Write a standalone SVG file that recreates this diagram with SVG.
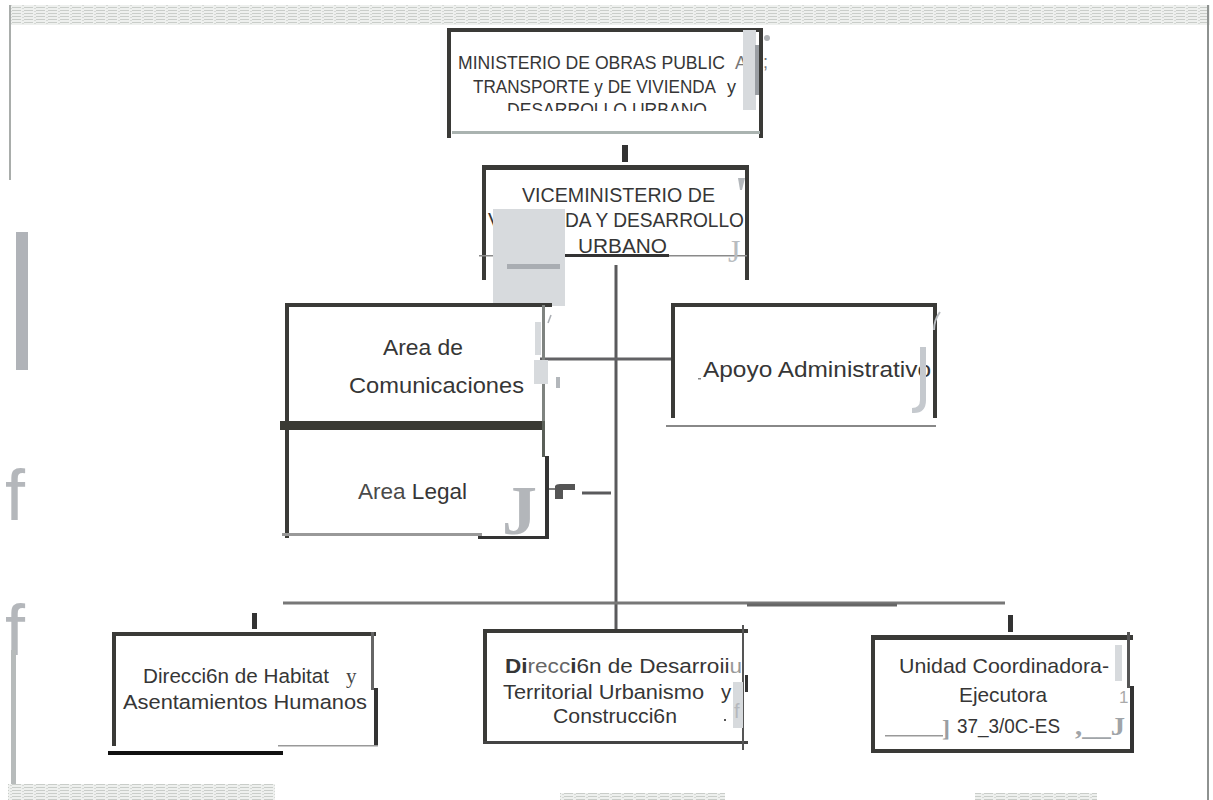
<svg xmlns="http://www.w3.org/2000/svg" width="1213" height="800" viewBox="0 0 1213 800">
  <defs>
    <pattern id="scanband" width="12" height="3" patternUnits="userSpaceOnUse">
      <rect width="12" height="3" fill="#eef0ee"/>
      <rect y="1" width="9" height="1" fill="#c9cdc9"/>
      <rect x="10" y="2" width="2" height="1" fill="#d7dad7"/>
    </pattern>
    <clipPath id="clipMinLine3">
      <rect x="440" y="95" width="330" height="16"/>
    </clipPath>
    <style>
      .t { font-family: "Liberation Sans", Arial, sans-serif; fill: #363636; }
      .s { font-family: "Liberation Serif", "Times New Roman", serif; }
      .edge { fill: #3a3a37; }
      .mask { fill: #d7dadd; }
      .ghost { fill: #b3b7bb; }
      .wire { stroke: #5a5a5c; stroke-width: 3; fill: none; }
    </style>
  </defs>

  <rect width="1213" height="800" fill="#ffffff"/>

  <!-- page frame: scanned edges -->
  <g id="frame">
    <rect x="10" y="5" width="1200" height="20" fill="url(#scanband)"/>
    <rect x="9" y="5" width="2" height="175" fill="#a9adab"/>
    <rect x="1207" y="5" width="2" height="795" fill="#8e9290"/>
    <rect x="16" y="232" width="12" height="138" fill="#b0b3b8"/>
    <text x="5" y="520" class="t" font-size="72" style="fill:#b4b7bb">f</text>
    <text x="5" y="655" class="t" font-size="72" style="fill:#b4b7bb">f</text>
    <rect x="11" y="650" width="5" height="140" fill="#b7bbbb"/>
    <rect x="8" y="784" width="267" height="16" fill="url(#scanband)"/>
    <rect x="560" y="793" width="165" height="7" fill="url(#scanband)"/>
    <rect x="975" y="793" width="122" height="7" fill="url(#scanband)"/>
  </g>

  <!-- connectors -->
  <g id="connectors">
    <rect x="622" y="145" width="6" height="17" fill="#333"/>
    <line x1="616" y1="265" x2="616" y2="631" class="wire"/>
    <line x1="540" y1="359" x2="672" y2="359" class="wire" style="stroke:#626265"/>
    <line x1="546" y1="489" x2="556" y2="489" stroke="#555" stroke-width="1.5"/>
    <path d="M555,486 Q556,484 560,484 L575,484 L575,490 L563,490 L563,499 L555,499 Z" fill="#555"/>
    <line x1="582" y1="493" x2="611" y2="493" class="wire"/>
    <line x1="283" y1="603" x2="1005" y2="603" class="wire" style="stroke:#777"/>
    <line x1="747" y1="605" x2="897" y2="605" class="wire" style="stroke:#666"/>
    <rect x="252" y="613" width="5" height="16" fill="#333"/>
    <rect x="1008" y="615" width="5" height="17" fill="#333"/>
  </g>

  <!-- Ministerio -->
  <g id="ministerio">
    <rect x="447" y="28" width="316" height="4" class="edge"/>
    <rect x="447" y="28" width="4" height="110" class="edge"/>
    <rect x="759" y="28" width="4" height="110" class="edge"/>
    <rect x="452" y="131" width="308" height="3" fill="#aab3b0"/>
    <text x="458" y="69" class="t" font-size="18" textLength="267" lengthAdjust="spacingAndGlyphs">MINISTERIO DE OBRAS PUBLIC</text>
    <text class="t" font-size="18" style="fill:#777"><tspan x="735" y="69">A</tspan><tspan x="763" y="68">;</tspan></text>
    <text class="t" font-size="18"><tspan x="473" y="93" textLength="243" lengthAdjust="spacingAndGlyphs">TRANSPORTE y DE VIVIENDA</tspan><tspan x="727" y="93">y</tspan></text>
    <text x="507" y="116" class="t" font-size="18" textLength="200" lengthAdjust="spacingAndGlyphs" clip-path="url(#clipMinLine3)">DESARROLLO URBANO</text>
    <rect x="743" y="30" width="13" height="80" class="mask"/>
    <rect x="755" y="45" width="4" height="50" fill="#9a9ea3"/>
    <circle cx="767" cy="38" r="3" fill="#b0b3b6"/>
  </g>

  <!-- Viceministerio -->
  <g id="viceministerio">
    <rect x="482" y="165" width="267" height="5" class="edge"/>
    <rect x="482" y="165" width="4" height="115" class="edge"/>
    <rect x="745" y="165" width="4" height="115" class="edge"/>
    <rect x="479" y="255" width="268" height="1.5" fill="#8a8a8a"/>
    <rect x="565" y="254" width="104" height="3" fill="#333"/>
    <text x="522" y="202" class="t" font-size="20" textLength="193" lengthAdjust="spacingAndGlyphs">VICEMINISTERIO DE</text>
    <text x="488" y="227" class="t" font-size="20">V</text>
    <text x="565" y="227" class="t" font-size="20" textLength="179" lengthAdjust="spacingAndGlyphs">DA Y DESARROLLO</text>
    <text x="578" y="253" class="t" font-size="20" textLength="89" lengthAdjust="spacingAndGlyphs">URBANO</text>
    <rect x="493" y="209" width="72" height="97" class="mask"/>
    <rect x="507" y="264" width="53" height="5" fill="#a9adb2"/>
    <polygon points="738,178 745,178 742,190 740,190" class="ghost"/>
    <text x="728" y="262" class="s" font-size="32" style="fill:#b8bcc0">J</text>
  </g>

  <!-- Area de Comunicaciones -->
  <g id="comunicaciones">
    <rect x="285" y="303" width="267" height="4" class="edge"/>
    <rect x="285" y="303" width="4" height="235" class="edge"/>
    <rect x="280" y="421" width="262" height="9" fill="#3a3a34"/>
    <rect x="542" y="305" width="3" height="116" fill="#7f8380"/>
    <rect x="542" y="421" width="3" height="36" fill="#5a5f58"/>
    <rect x="535" y="322" width="6" height="33" class="mask"/>
    <rect x="534" y="360" width="14" height="24" class="mask"/>
    <rect x="556" y="377" width="4" height="11" class="ghost"/>
    <line x1="551" y1="315" x2="548" y2="323" stroke="#a9adb2" stroke-width="1.5"/>
    <text x="383" y="355" class="t" font-size="21.5" textLength="80" lengthAdjust="spacingAndGlyphs">Area de</text>
    <text x="349" y="393" class="t" font-size="21.5" textLength="175" lengthAdjust="spacingAndGlyphs">Comunicaciones</text>
  </g>

  <!-- Area Legal -->
  <g id="legal">
    <rect x="545" y="456" width="4" height="83" fill="#333"/>
    <rect x="282" y="533" width="200" height="3" fill="#999"/>
    <rect x="478" y="536" width="71" height="3" fill="#333"/>
    <text x="358" y="499" class="t" font-size="21.5" textLength="109" lengthAdjust="spacingAndGlyphs"><tspan style="fill:#4a4a4a">Area</tspan> Legal</text>
    <text x="502" y="534" class="s" font-size="70" font-weight="bold" style="fill:#b3b6ba">J</text>
  </g>

  <!-- Apoyo Administrativo -->
  <g id="apoyo">
    <rect x="671" y="303" width="266" height="4" class="edge"/>
    <rect x="671" y="303" width="4" height="115" class="edge"/>
    <rect x="933" y="303" width="4" height="115" class="edge"/>
    <rect x="666" y="425" width="270" height="2" fill="#888"/>
    <rect x="698" y="378" width="3" height="1.5" fill="#888"/>
    <text x="703" y="377" class="t" font-size="21.5" textLength="228" lengthAdjust="spacingAndGlyphs">Apoyo Administrativo</text>
    <path d="M920,347 L926,347 L926,400 Q926,413 914,413 L912,413 L912,408 Q920,408 920,400 Z" fill="#c5c9ce"/>
    <path d="M940,312 Q934,320 934,330" stroke="#b8bcc0" stroke-width="2" fill="none"/>
  </g>

  <!-- Direccion de Habitat y Asentamientos Humanos -->
  <g id="habitat">
    <rect x="112" y="632" width="264" height="4" class="edge"/>
    <rect x="112" y="632" width="4" height="114" class="edge"/>
    <rect x="371" y="632" width="3" height="58" fill="#666"/>
    <rect x="374" y="688" width="4" height="58" fill="#333"/>
    <rect x="278" y="745" width="100" height="1.5" fill="#999"/>
    <rect x="108" y="751" width="175" height="4" fill="#111"/>
    <text x="143" y="683" class="t" font-size="20.5" textLength="186" lengthAdjust="spacingAndGlyphs">Direcci6n de Habitat</text>
    <text x="346" y="683" class="s" font-size="21" style="fill:#444">y</text>
    <text x="123" y="709" class="t" font-size="20.5" textLength="244" lengthAdjust="spacingAndGlyphs">Asentamientos Humanos</text>
  </g>

  <!-- Direccion de Desarrollo Territorial -->
  <g id="desarrollo">
    <rect x="483" y="629" width="265" height="4" class="edge"/>
    <rect x="483" y="629" width="4" height="115" class="edge"/>
    <rect x="483" y="741" width="265" height="3" fill="#444"/>
    <rect x="742" y="625" width="2" height="125" fill="#555"/>
    <rect x="745" y="675" width="3" height="17" fill="#333"/>
    <rect x="733" y="682" width="10" height="46" class="mask"/>
    <text x="734" y="718" class="t" font-size="20" style="fill:#b5b8bc">f</text>
    <text x="505" y="673" class="t" font-size="20.5" textLength="237" lengthAdjust="spacingAndGlyphs"><tspan font-weight="bold">Di</tspan><tspan style="fill:#666">recc</tspan><tspan font-weight="bold">i</tspan>6n de Desarroii<tspan style="fill:#999">u</tspan></text>
    <text class="t" font-size="20.5"><tspan x="503" y="699" textLength="201" lengthAdjust="spacingAndGlyphs">Territorial Urbanismo</tspan><tspan x="721" y="699">y</tspan></text>
    <text x="553" y="723" class="t" font-size="20.5" textLength="124" lengthAdjust="spacingAndGlyphs">Construcci6n</text>
    <rect x="724" y="719" width="2" height="2" fill="#555"/>
  </g>

  <!-- Unidad Coordinadora-Ejecutora -->
  <g id="unidad">
    <rect x="871" y="635" width="262" height="5" class="edge"/>
    <rect x="871" y="635" width="4" height="118" class="edge"/>
    <rect x="871" y="749" width="263" height="4" class="edge"/>
    <rect x="1127" y="632" width="3" height="56" fill="#555"/>
    <rect x="1130" y="686" width="4" height="67" fill="#333"/>
    <rect x="1115" y="645" width="7" height="36" class="mask"/>
    <text x="1119" y="703" class="t" font-size="17" style="fill:#aaa">1</text>
    <text x="899" y="673" class="t" font-size="21" textLength="210" lengthAdjust="spacingAndGlyphs">Unidad Coordinadora-</text>
    <text x="959" y="702" class="t" font-size="21" textLength="88" lengthAdjust="spacingAndGlyphs">Ejecutora</text>
    <rect x="885" y="735" width="58" height="1.5" fill="#999"/>
    <text x="942" y="736" class="s" font-size="24" font-weight="bold" style="fill:#9a9ea2">]</text>
    <text x="957" y="733" class="t" font-size="20" textLength="103" lengthAdjust="spacingAndGlyphs">37_3/0C-ES</text>
    <text x="1075" y="735" class="s" font-size="26" font-weight="bold" textLength="50" lengthAdjust="spacingAndGlyphs" style="fill:#a0a4a8">,__J</text>
  </g>
</svg>
